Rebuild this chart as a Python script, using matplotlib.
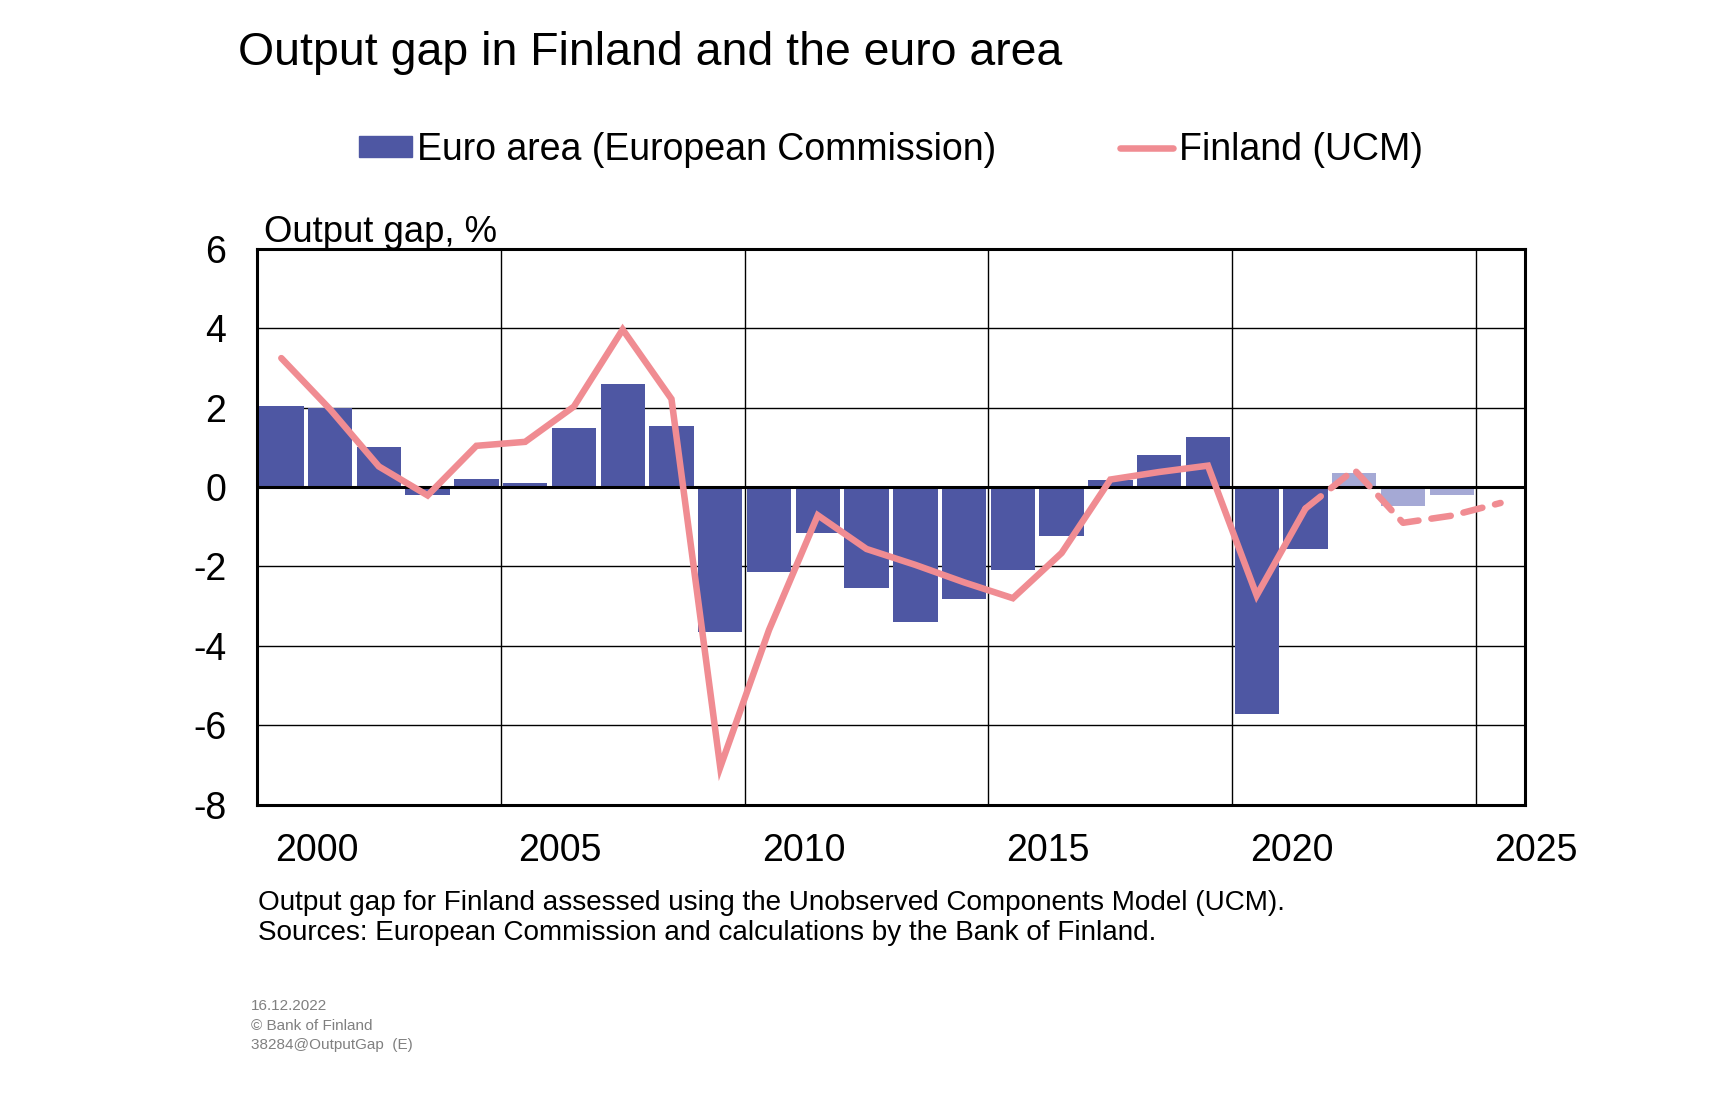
import matplotlib
matplotlib.use('Agg')
import matplotlib.pyplot as plt
from matplotlib.lines import Line2D
from matplotlib.patches import Patch
import matplotlib.transforms as mtransforms

plt.rcParams['font.family'] = ['Liberation Sans', 'DejaVu Sans']

# euro area output gap (European Commission), 2000-2024
ea_years = list(range(2000, 2025))
ea_gap = [2.05, 2.0, 1.0, -0.2, 0.2, 0.1, 1.5, 2.6, 1.55, -3.65,
          -2.13, -1.15, -2.54, -3.39, -2.81, -2.09, -1.23, 0.19, 0.8, 1.25,
          -5.73, -1.56, 0.35, -0.47, -0.2]
ea_forecast_from = 2022

# Finland output gap (UCM), 2000-2025
fi_years = list(range(2000, 2026))
fi_gap = [3.25, 1.96, 0.52, -0.21, 1.04, 1.14, 2.03, 3.97, 2.22, -7.06,
          -3.6, -0.71, -1.56, -1.96, -2.4, -2.8, -1.66, 0.19, 0.38, 0.54,
          -2.73, -0.54, 0.44, -0.9, -0.72, -0.4]
fi_forecast_from = 2021

label_years = [2000, 2005, 2010, 2015, 2020, 2025]
y_ticks = [-8, -6, -4, -2, 0, 2, 4, 6]

dark_blue = '#4E57A3'
light_blue = '#A5A9D5'
pink = '#F08C92'

fig = plt.figure(figsize=(17.14, 11.19), dpi=100)
ax = fig.add_axes([0.1499, 0.281, 0.7398, 0.4965])

colors = [dark_blue if y < ea_forecast_from else light_blue for y in ea_years]
ax.bar(ea_years, ea_gap, width=0.91, color=colors, zorder=2)

i = fi_years.index(fi_forecast_from)
ax.plot(fi_years[:i + 1], fi_gap[:i + 1], color=pink, lw=4.7,
        solid_capstyle='round', solid_joinstyle='miter', zorder=3)
ax.plot(fi_years[i:], fi_gap[i:], color=pink, lw=4.7, dashes=(3, 2),
        dash_capstyle='round', zorder=3)

ax.set_xlim(1999.5, 2025.5)
ax.set_ylim(-8, 6)
ax.set_yticks(y_ticks)
ax.set_yticklabels([str(t) for t in y_ticks])
ax.set_xticks([y - 0.5 for y in label_years[1:]])
ax.set_xticklabels([])
ax.tick_params(axis='both', length=0, labelsize=27)
ax.tick_params(axis='y', pad=22)
ax.grid(True, color='black', lw=1.0, zorder=1)
ax.axhline(0, color='black', lw=2.2, zorder=2.5)
for s in ax.spines.values():
    s.set_linewidth(2.2)

# year labels sit a bit right of each gridline, like in the original
trans = mtransforms.blended_transform_factory(ax.transData, ax.transAxes)
for y in label_years:
    ax.text(y + 0.72, -0.083, str(y), transform=trans, ha='center', va='center',
            fontsize=27, clip_on=False)

fig.text(0.1389, 0.953, 'Output gap in Finland and the euro area', fontsize=33.4,
         ha='left', va='center')
fig.text(0.154, 0.792, 'Output gap, %', fontsize=26.3, ha='left', va='center')

handles = [Patch(color=dark_blue, label='Euro area (European Commission)'),
           Line2D([], [], color=pink, lw=4.7, solid_capstyle='round', label='Finland (UCM)')]
fig.legend(handles=handles, loc='center', bbox_to_anchor=(0.5198, 0.866), ncol=2,
           frameon=False, fontsize=27, handlelength=1.4, handleheight=0.5,
           handletextpad=0.15, columnspacing=3.3)

fig.text(0.1505, 0.193, 'Output gap for Finland assessed using the Unobserved Components Model (UCM).',
         fontsize=20.1, ha='left', va='center')
fig.text(0.1505, 0.166, 'Sources: European Commission and calculations by the Bank of Finland.',
         fontsize=20.1, ha='left', va='center')

grey = '#808080'
fig.text(0.1465, 0.101, '16.12.2022', fontsize=11, color=grey, ha='left', va='center')
fig.text(0.1465, 0.0835, '\u00a9 Bank of Finland', fontsize=11, color=grey, ha='left', va='center')
fig.text(0.1465, 0.066, '38284@OutputGap  (E)', fontsize=11, color=grey, ha='left', va='center')

fig.savefig('out.png', dpi=100)
